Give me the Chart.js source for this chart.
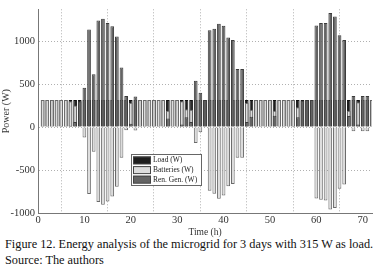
<!DOCTYPE html>
<html>
<head>
<meta charset="utf-8">
<script src="https://cdn.jsdelivr.net/npm/chart.js@4/dist/chart.umd.min.js"></script>
<style>
  html, body { margin: 0; padding: 0; background: #fff; }
  #wrap { position: relative; width: 382px; height: 238px; }
  #cap { font-family: "Liberation Serif", "Times New Roman", serif; font-size: 12.3px; line-height: 16px; color: #111; padding-left: 5px; margin-top: -2px; white-space: nowrap; }
</style>
</head>
<body>
<div id="wrap"><canvas id="c" width="382" height="238"></canvas></div>
<div id="cap">Figure 12. Energy analysis of the microgrid for 3 days with 315 W as load.<br>Source: The authors</div>
<script>
const hours = [1,2,3,4,5,6,7,8,9,10,11,12,13,14,15,16,17,18,19,20,21,22,23,24,25,26,27,28,29,30,31,32,33,34,35,36,
  37,38,39,40,41,42,43,44,45,46,47,48,49,50,51,52,53,54,55,56,57,58,59,60,61,62,63,64,65,66,67,68,69,70,71,72];

const loadW = [315,315,315,315,315,315,315,315,315,315,315,315,315,315,315,315,315,315,315,315,315,315,315,315,
  315,315,315,315,315,315,315,315,315,315,315,315,315,315,315,315,315,315,315,315,315,315,315,315,
  315,315,315,315,315,315,315,315,315,315,315,315,315,315,315,315,315,315,315,315,315,315,315,315];

const batteriesW = [315,315,315,315,315,315,300,250,0,-121,-778,-288,-873,-903,-865,-809,-696,-356,-38,283,-40,315,315,315,
  315,315,315,190,315,315,300,208,200,-186,-61,0,-740,-775,-835,-795,-690,-662,-356,-356,280,200,315,315,
  315,315,189,315,315,315,315,230,0,0,0,-830,-846,-854,-960,-941,-717,-668,190,-50,290,-50,-50,315];

const renGenW = [0,0,0,0,0,0,15,60,300,456,1136,615,1241,1261,1212,1174,1053,694,362,38,355,0,0,0,
  0,0,0,100,0,0,30,113,60,540,400,315,1125,1144,1201,1180,1042,1012,675,675,60,120,0,0,
  0,0,132,0,0,0,0,115,310,315,315,1182,1212,1212,1326,1287,1068,1012,130,362,30,362,362,0];

const xTicks = [0,10,20,30,40,50,60,70];
const yTicks = [-1000,-500,0,500,1000];
const legendItems = [
  {label:'Load (W)', color:'#1e1e1e'},
  {label:'Batteries (W)', color:'#dcdcdc'},
  {label:'Ren. Gen. (W)', color:'#646464'}
];

const pts = arr => hours.map((h,i) => ({x:h, y:arr[i]}));
const SERIF = '"Liberation Serif", "Times New Roman", serif';

const legendPlugin = {
  id: 'boxLegend',
  afterDatasetsDraw(chart) {
    const ctx = chart.ctx;
    const x0 = 131, y0 = 154, w = 70, h = 31;
    ctx.save();
    ctx.fillStyle = '#fff';
    ctx.fillRect(x0, y0, w, h);
    ctx.strokeStyle = '#666';
    ctx.lineWidth = 1;
    ctx.strokeRect(x0 + 0.5, y0 + 0.5, w, h);
    ctx.font = '7.5px ' + SERIF;
    ctx.textBaseline = 'middle';
    legendItems.forEach((it, i) => {
      const cy = y0 + 6 + i * 9.6;
      ctx.fillStyle = it.color;
      ctx.fillRect(x0 + 2, cy - 3.5, 18, 7.5);
      ctx.strokeStyle = '#444';
      ctx.strokeRect(x0 + 2.5, cy - 3, 17, 7);
      ctx.fillStyle = '#222';
      ctx.fillText(it.label, x0 + 22, cy + 0.5);
    });
    ctx.restore();
  }
};

new Chart(document.getElementById('c'), {
  type: 'bar',
  data: {
    datasets: [
      {label:'Ren. Gen. (W)', data: pts(renGenW), backgroundColor:'#646464', borderColor:'#3c3c3c', borderWidth:1, grouped:false},
      {label:'Batteries (W)', data: pts(batteriesW), backgroundColor:'#dcdcdc', borderColor:'#6a6a6a', borderWidth:1, grouped:false},
      {label:'Load (W)', data: pts(loadW), backgroundColor:'#1e1e1e', borderColor:'#111', borderWidth:1, grouped:false}
    ]
  },
  options: {
    responsive: false,
    animation: false,
    devicePixelRatio: 1,
    barPercentage: 0.8,
    categoryPercentage: 1,
    layout: { padding: { top: 7, right: 10, left: 0, bottom: 0 } },
    plugins: { legend: { display: false }, tooltip: { enabled: false } },
    scales: {
      x: {
        type: 'linear', min: 0, max: 72, offset: false,
        afterBuildTicks: s => { s.ticks = xTicks.map(v => ({value: v})); },
        afterFit: s => { s.height = 25; },
        ticks: { font: { family: SERIF, size: 10.5 }, color: '#333', padding: 1, callback: v => String(v), maxRotation: 0 },
        grid: { color: '#b0b0b0', lineWidth: 1, drawTicks: false, tickLength: 0 },
        border: { display: true, color: '#777', width: 1, dash: [1, 2] },
        title: { display: true, text: 'Time (h)', font: { family: SERIF, size: 9.5 }, color: '#333', padding: { top: 0, bottom: 0 } }
      },
      y: {
        min: -1000, max: 1370,
        afterBuildTicks: s => { s.ticks = yTicks.map(v => ({value: v})); },
        afterFit: s => { s.width = 38; },
        ticks: { font: { family: SERIF, size: 10.5 }, color: '#333', padding: 3, callback: v => String(v) },
        grid: { color: '#b0b0b0', lineWidth: 1, drawTicks: false },
        border: { display: true, color: '#777', width: 1, dash: [1, 2] },
        title: { display: true, text: 'Power (W)', font: { family: SERIF, size: 10 }, color: '#333', padding: { top: 0, bottom: 0 } }
      }
    }
  },
  plugins: [legendPlugin]
});
</script>
</body>
</html>
